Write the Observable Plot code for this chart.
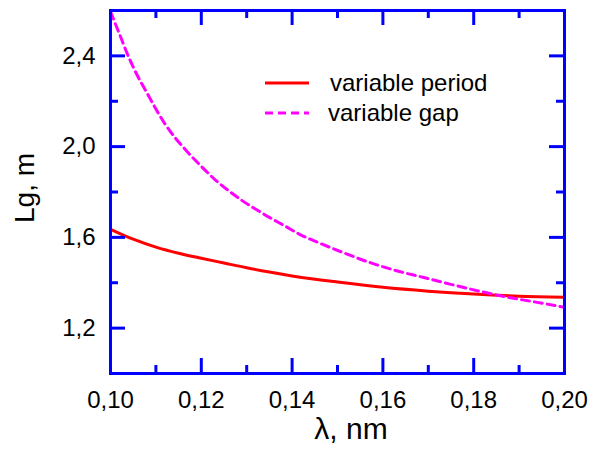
<!DOCTYPE html>
<html><head><meta charset="utf-8">
<script src="https://cdn.jsdelivr.net/npm/d3@7"></script>
<script src="https://cdn.jsdelivr.net/npm/@observablehq/plot@0.6"></script>
<style>body{margin:0;background:#fff;} #chart{position:relative;width:597px;height:453px;}</style>
</head><body><div id="chart"></div>
<script>
// ---- data ----
const periodLambda = [0.100, 0.105, 0.110, 0.115, 0.120, 0.125, 0.130, 0.135, 0.140, 0.150, 0.160, 0.170, 0.180, 0.190, 0.200];
const periodLg     = [1.636, 1.592, 1.557, 1.530, 1.508, 1.487, 1.466, 1.447, 1.430, 1.403, 1.380, 1.363, 1.350, 1.341, 1.336];
const gapLambda = [0.100, 0.102, 0.104, 0.106, 0.108, 0.110, 0.112, 0.114, 0.116, 0.118, 0.120, 0.123, 0.126, 0.129, 0.132, 0.135, 0.138, 0.142, 0.146, 0.151, 0.157, 0.163, 0.169, 0.175, 0.181, 0.187, 0.193, 0.200];
const gapLg     = [2.595, 2.495, 2.395, 2.310, 2.238, 2.166, 2.100, 2.045, 1.998, 1.954, 1.913, 1.855, 1.806, 1.762, 1.724, 1.688, 1.655, 1.610, 1.575, 1.535, 1.490, 1.453, 1.423, 1.393, 1.364, 1.338, 1.317, 1.292];
const seriesNames = ["variable period", "variable gap"];
const seriesColors = ["#ff0000", "#ff00ff"];
const xMajorTicks = [0.10, 0.12, 0.14, 0.16, 0.18, 0.20];
const xTickLabels = ["0,10", "0,12", "0,14", "0,16", "0,18", "0,20"];
const xMinorTicks = [0.11, 0.13, 0.15, 0.17, 0.19];
const yMajorTicks = [1.2, 1.6, 2.0, 2.4];
const yTickLabels = ["1,2", "1,6", "2,0", "2,4"];
const yMinorTicks = [1.4, 1.8, 2.2];
const xTitle = "λ, nm";
const yTitle = "Lg, m";

const periodData = periodLambda.map((x, i) => ({x, y: periodLg[i]}));
const gapData = gapLambda.map((x, i) => ({x, y: gapLg[i]}));

// ---- layout ----
const W = 597, H = 453, mL = 110, mR = 33, mT = 10, mB = 80;
const pw = W - mL - mR, ph = H - mT - mB;
const majorLen = 15, minorLen = 8;
const blue = "#0000ff";
const font = "'Liberation Sans', Arial, sans-serif";

const tickRules = [];
for (const [vals, len] of [[xMajorTicks, majorLen], [xMinorTicks, minorLen]]) {
  tickRules.push(Plot.ruleX(vals, {x: d => d, insetTop: ph - len, stroke: blue, strokeWidth: 3}));
  tickRules.push(Plot.ruleX(vals, {x: d => d, insetBottom: ph - len, stroke: blue, strokeWidth: 3}));
}
for (const [vals, len] of [[yMajorTicks, majorLen], [yMinorTicks, minorLen]]) {
  tickRules.push(Plot.ruleY(vals, {y: d => d, insetRight: pw - len, stroke: blue, strokeWidth: 3}));
  tickRules.push(Plot.ruleY(vals, {y: d => d, insetLeft: pw - len, stroke: blue, strokeWidth: 3}));
}

const svg = Plot.plot({
  width: W, height: H,
  marginLeft: mL, marginRight: mR, marginTop: mT, marginBottom: mB,
  style: {fontFamily: font, fontSize: "24px", background: "#fff", color: "#000"},
  x: {domain: [0.10, 0.20]},
  y: {domain: [1.0, 2.6]},
  marks: [
    Plot.line(periodData, {x: "x", y: "y", stroke: seriesColors[0], strokeWidth: 3, curve: "monotone-x", clip: "frame"}),
    Plot.line(gapData, {x: "x", y: "y", stroke: seriesColors[1], strokeWidth: 3, strokeDasharray: "8,5", curve: "monotone-x", clip: "frame"}),
    Plot.axisX(xMajorTicks, {tickSize: 0, tickPadding: 17, label: null,
      tickFormat: d => xTickLabels[xMajorTicks.indexOf(d)]}),
    Plot.axisY(yMajorTicks, {tickSize: 0, tickPadding: 15, label: null,
      tickFormat: d => yTickLabels[yMajorTicks.indexOf(d)]}),
    ...tickRules,
    Plot.frame({stroke: blue, strokeWidth: 3})
  ]
});

const root = d3.select(svg);
// axis titles
root.append("text").attr("transform", "translate(351,439)")
  .attr("text-anchor", "middle").attr("font-family", font).attr("font-size", 30).attr("fill", "#000").text(xTitle);
root.append("text").attr("transform", "translate(34,188) rotate(-90)")
  .attr("text-anchor", "middle").attr("font-family", font).attr("font-size", 28).attr("fill", "#000").text(yTitle);

// legend
const lg = root.append("g").attr("font-family", font).attr("font-size", 24).attr("text-anchor", "start");
const legendRows = [{y: 83, tx: 330, by: 91}, {y: 113, tx: 328, by: 121}];
seriesNames.forEach((name, i) => {
  const r = legendRows[i];
  lg.append("line").attr("x1", 265).attr("x2", 309).attr("y1", r.y).attr("y2", r.y)
    .attr("stroke", seriesColors[i]).attr("stroke-width", 3)
    .attr("stroke-dasharray", i === 1 ? "8,5" : null);
  lg.append("text").attr("x", r.tx).attr("y", r.by).attr("fill", "#000").attr("text-anchor", "start").text(name);
});

document.getElementById("chart").appendChild(svg);
</script>
</body></html>
